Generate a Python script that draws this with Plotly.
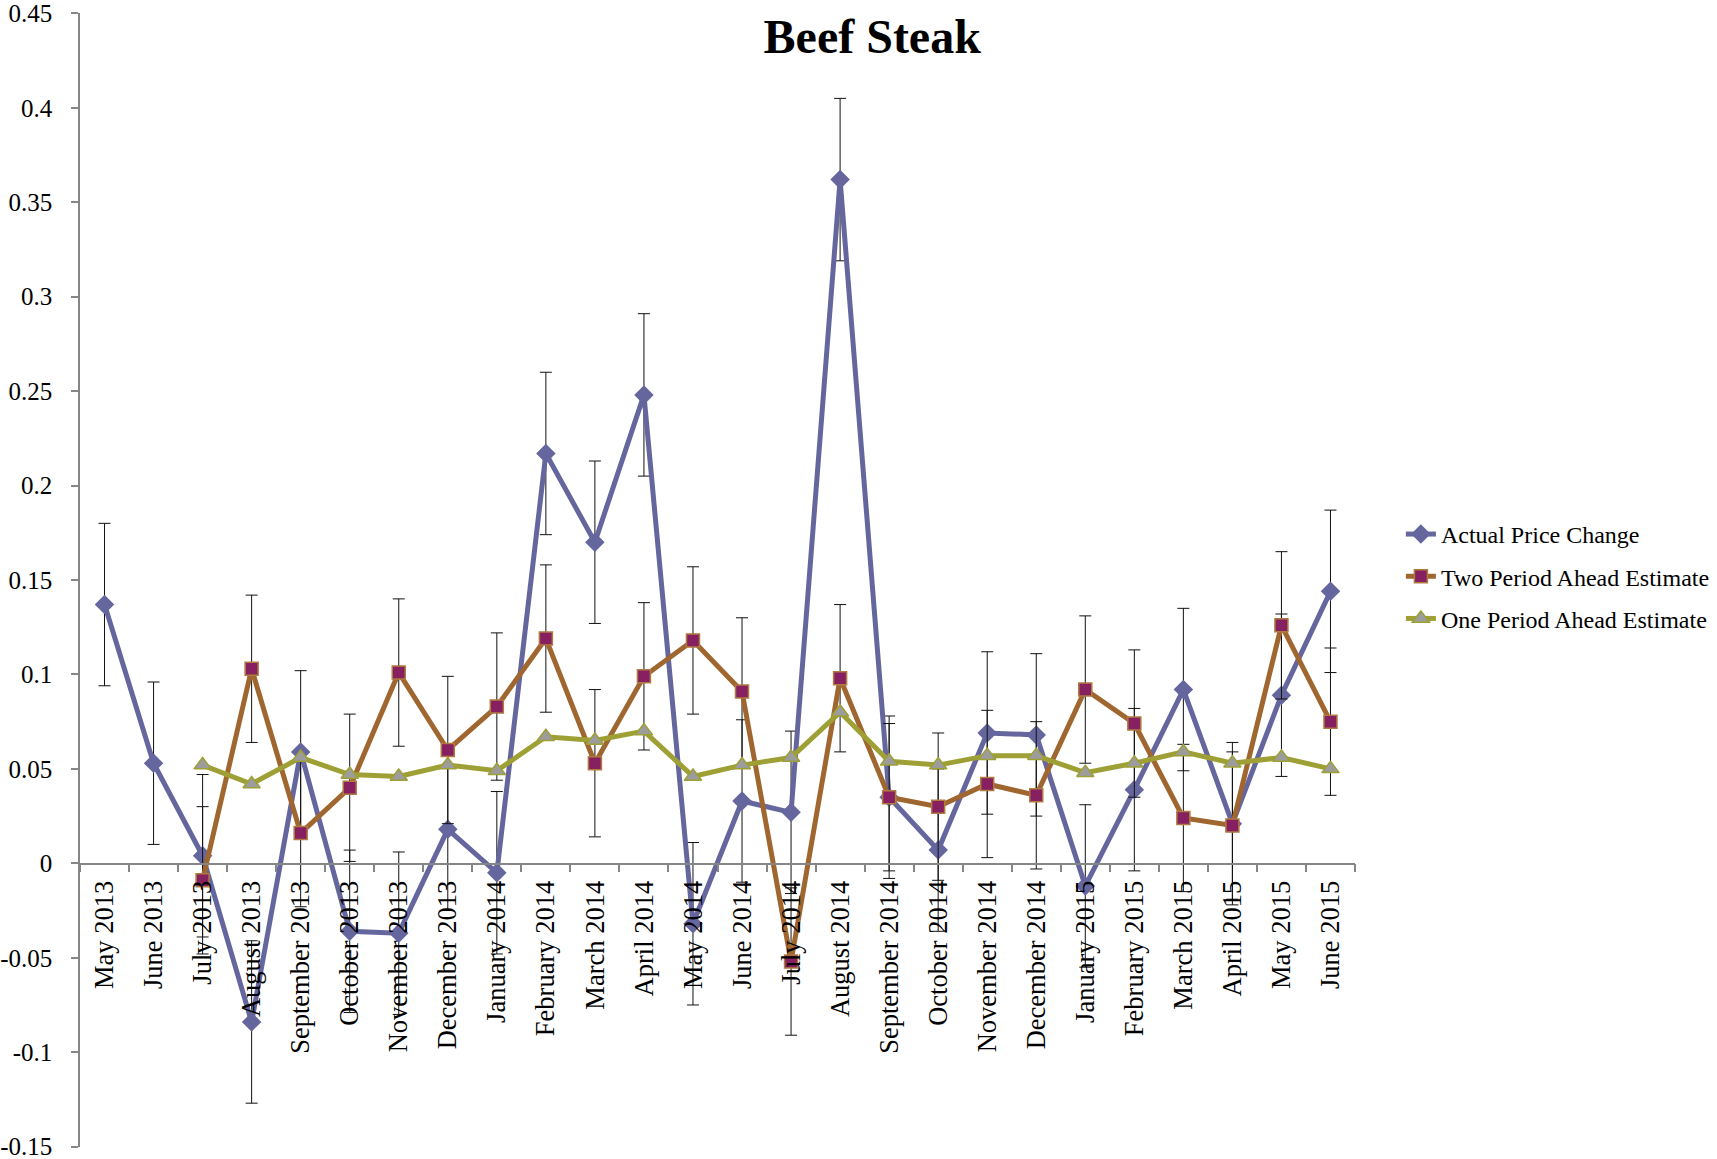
import plotly.graph_objects as go

MONTHS = [
    "May 2013", "June 2013", "July 2013", "August 2013", "September 2013",
    "October 2013", "November 2013", "December 2013", "January 2014",
    "February 2014", "March 2014", "April 2014", "May 2014", "June 2014",
    "July 2014", "August 2014", "September 2014", "October 2014",
    "November 2014", "December 2014", "January 2015", "February 2015",
    "March 2015", "April 2015", "May 2015", "June 2015",
]

ACTUAL = [
    0.137, 0.053, 0.004, -0.084, 0.059, -0.036, -0.037, 0.018, -0.005,
    0.217, 0.170, 0.248, -0.032, 0.033, 0.027, 0.362, 0.035, 0.007,
    0.069, 0.068, -0.012, 0.039, 0.092, 0.021, 0.089, 0.144,
]
# both estimate series start at July 2013
TWO_AHEAD = [
    -0.009, 0.103, 0.016, 0.040, 0.101, 0.060, 0.083, 0.119, 0.053,
    0.099, 0.118, 0.091, -0.052, 0.098, 0.035, 0.030, 0.042, 0.036,
    0.092, 0.074, 0.024, 0.020, 0.126, 0.075,
]
ONE_AHEAD = [
    0.052, 0.042, 0.056, 0.047, 0.046, 0.052, 0.049, 0.067, 0.065,
    0.070, 0.046, 0.052, 0.056, 0.080, 0.054, 0.052, 0.057, 0.057,
    0.048, 0.053, 0.059, 0.053, 0.056, 0.050,
]
ACTUAL_ERR = 0.043
TWO_AHEAD_ERR = 0.039

Y_TICKS = [-0.15, -0.1, -0.05, 0, 0.05, 0.1, 0.15, 0.2, 0.25, 0.3, 0.35, 0.4, 0.45]
Y_TICK_TEXT = ["-0.15", "-0.1", "-0.05", "0", "0.05", "0.1", "0.15", "0.2",
               "0.25", "0.3", "0.35", "0.4", "0.45"]

FONT = "Liberation Serif, Times New Roman, serif"
ERR_COLOR = "#111111"

fig = go.Figure()
fig.add_trace(go.Scatter(
    x=MONTHS, y=ACTUAL, name="Actual Price Change", legendgroup="a",
    mode="lines+markers",
    line=dict(color="#66669E", width=5),
    marker=dict(symbol="diamond", size=15, color="#66669E"),
    error_y=dict(type="constant", value=ACTUAL_ERR, color=ERR_COLOR, thickness=1, width=6),
))
fig.add_trace(go.Scatter(
    x=MONTHS[2:], y=TWO_AHEAD, name="Two Period Ahead Estimate", legendgroup="b",
    mode="lines+markers",
    line=dict(color="#A0662F", width=5),
    marker=dict(symbol="square", size=13, color="#862060", line=dict(color="#B07A40", width=1.5)),
    error_y=dict(type="constant", value=TWO_AHEAD_ERR, color=ERR_COLOR, thickness=1, width=6),
))
fig.add_trace(go.Scatter(
    x=MONTHS[2:], y=ONE_AHEAD, name="One Period Ahead Estimate", legendgroup="c",
    mode="lines+markers",
    line=dict(color="#9EA035", width=5),
    marker=dict(symbol="triangle-up", size=15, color="#9C9C9C", line=dict(color="#9EA035", width=1.5)),
))

fig.update_layout(
    width=1717, height=1159,
    paper_bgcolor="white", plot_bgcolor="white",
    font=dict(family=FONT, color="black", size=25),
    margin=dict(l=80, r=362, t=13, b=12, autoexpand=False),
    title=dict(text="<b>Beef Steak</b>", font=dict(size=48, family=FONT, color="black"),
               x=0.508, xanchor="center", xref="container",
               y=0.969, yanchor="middle", yref="container"),
    xaxis=dict(
        type="category", domain=[0, 1], anchor="free", position=0.25,
        showline=True, linecolor="#868686", linewidth=1.5,
        ticks="outside", tickson="boundaries", ticklen=8, tickcolor="#868686", tickwidth=1.5,
        tickangle=-90, tickfont=dict(size=26.5), ticklabelstandoff=6,
        showgrid=False, zeroline=False, range=[-0.5, 25.5],
    ),
    yaxis=dict(
        range=[-0.1502, 0.4502], domain=[0, 1],
        tickvals=Y_TICKS, ticktext=Y_TICK_TEXT, ticklabeloverflow="allow",
        showline=True, linecolor="#868686", linewidth=1.5,
        ticks="outside", ticklen=7, tickcolor="#868686", tickwidth=1.5,
        tickfont=dict(size=25), ticklabelstandoff=14,
        showgrid=False, zeroline=False,
    ),
    legend=dict(
        x=1.036, xanchor="left", y=0.56, yanchor="top",
        font=dict(size=24, family=FONT), tracegroupgap=8,
        bgcolor="rgba(0,0,0,0)",
    ),
    showlegend=True,
)

# drop the browser's default 8px body margin so the figure sits at the page corner
fig.write_html(
    "out.html",
    config={"displayModeBar": False},
    post_script="document.body.style.margin = '0';",
)
